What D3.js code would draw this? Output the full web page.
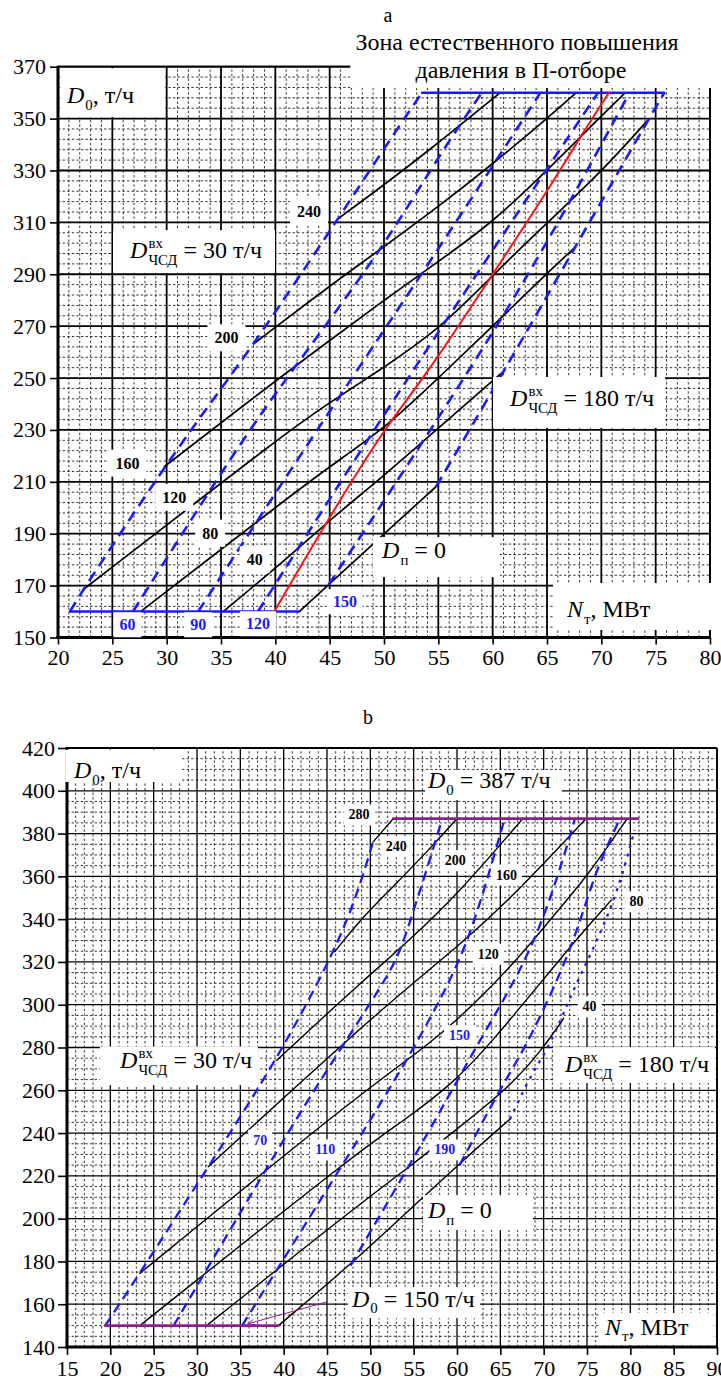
<!DOCTYPE html>
<html>
<head>
<meta charset="utf-8">
<script src="https://cdn.jsdelivr.net/npm/d3@7"></script>
<style>
    body { margin: 0; background: #fff; }
    svg text { font-family: "Liberation Serif", "Times New Roman", serif; fill: #000; }
</style>
</head>
<body>
<svg id="chart" width="721" height="1385" font-family="Liberation Serif"></svg>
<script>
// ---------- panel a data ----------
const aXTicks = d3.range(20, 81, 5);
const aYTicks = d3.range(150, 371, 20);

// black lines: constant D_п
const aDp0   = [[42.2,160],[44.9,170.3],[49.9,189.5],[54.8,208.2]];
const aDp40  = [[35.2,160],[41.3,181.2],[45,195.3],[49.9,212],[54.8,230],[60.1,249.3],[60.9,252.2]];
const aDp80  = [[27.6,160],[41.3,204.3],[45,215.9],[50.2,231],[54.8,249.3],[58.7,264.7],[65,290.4],[67.5,300.1]];
const aDp120 = [[22.3,168.4],[41.3,230],[45,240.5],[48.7,250.5],[55.2,269],[60,289.7],[65,309.7],[70,329.5],[74.2,349]];
const aDp160 = [[29.8,215.9],[38.9,245.4],[45,264.5],[50,280],[55.2,295.5],[60,310],[65,330],[70,351],[72.2,360]];
const aDp200 = [[38.1,263.5],[44.9,285.2],[49.8,300],[55.2,316.7],[60,332.5],[65,350],[67.7,360]];
const aDp240 = [[45.8,311.5],[49.8,323.8],[54.2,337.9],[60.7,360]];

// blue dashed lines: constant D_ЧСД
const aDc30  = [[21.1,160],[22.3,168.4],[29.8,215.9],[34.9,245.4],[38.1,263.5],[45.8,311.5],[49.9,337.9],[53.5,360]];
const aDc60  = [[26.9,160],[36.7,224.9],[41.8,254.4],[49.8,299.4],[55.2,336.7],[59,360]];
const aDc90  = [[32.9,160],[43,225],[53.5,290],[64.4,360]];
const aDc120 = [[38.4,160],[47.5,220],[58.5,290],[69.7,360]];
const aDc150 = [[44.9,170.3],[54,228],[63.5,290],[72.6,360]];
const aDc180 = [[54.8,208.2],[61.3,254.4],[74.2,348.8],[75.8,360]];

// red line: zone border
const aRed = [[39.9,160],[44.1,190.2],[49.9,230],[53.6,249.3],[60.06,290.4],[65,321.8],[67.7,340.5],[70.7,360]];

// blue limits D0 = 160 and D0 = 360
const aLimLow  = [[21.1,160],[42.2,160]];
const aLimHigh = [[53.5,360],[75.8,360]];

const aBlackLabels = [["240",43.1,314],["200",35.5,265.5],["160",26.4,217.2],["120",30.7,204],["80",34,190.2],["40",38.1,180]];
const aBlueLabels  = [["60",26.4,154.9],["90",32.9,154.9],["120",38.4,155.3],["150",46.4,163.8]];

// ---------- panel b data ----------
const bXTicks = d3.range(15, 91, 5);
const bYTicks = d3.range(140, 421, 20);

const bDp0   = [[39.4,150],[48.8,182.2],[59.8,224.2],[66.1,246.5]];
const bDp40  = [[31.1,150],[48.8,207],[55,225.7],[60.3,242.9],[66.2,262],[70,280],[72.3,293.6]];
const bDp80  = [[23.4,150],[48.8,232],[53.4,244.5],[59.6,263.2],[64.2,283.5],[70,312],[74.5,334],[77.8,348.9]];
const bDp120 = [[23.4,174.4],[48.8,258.6],[56.5,280.4],[62,300],[67.6,324.1],[71,341],[75,359.9],[79.6,386.8]];
const bDp160 = [[31.3,224.3],[48.8,289],[54.6,309],[60,327],[65.7,347.5],[74.9,387]];
const bDp200 = [[39.2,274],[48.8,310],[54.5,330],[60,351.3],[67.6,387]];
const bDp240 = [[45.9,324.8],[48.8,339.6],[52.65,355.2],[57.1,373.9],[60,387]];
const bDp280 = [[50.3,376],[52.65,387]];

const bDc30  = [[19.4,150],[23.4,174.4],[31.3,224.3],[39.2,274],[45.9,324.8],[48.6,353],[50.3,376]];
const bDc70  = [[27.3,150],[34,196],[41.1,244.5],[46.5,279],[51.5,310],[53.4,324.1],[55,344.3],[56.5,363],[58.3,387]];
const bDc110 = [[35.2,150],[48.8,238.3],[53.8,271],[60,316],[62.7,347.3],[65.5,387]];
const bDc150 = [[47.7,178],[56.9,241.4],[62.6,283.5],[68.4,322.5],[71.9,363],[73.6,387]];
const bDc190 = [[60.3,225],[65.3,263.2],[68,280.4],[73.4,327],[75.7,360],[78.8,387]];
const bDc180 = [[66.1,246.5],[68.8,269.5],[70.7,280.4],[73.4,306.9],[75.3,322.4],[78.4,350.5],[80.5,381.7]];

const bLimHigh = [[52.65,387],[80.9,387]];
const bLimLow  = [[19.4,150],[39.4,150]];
const bArrow   = [[45,161.1],[35.9,150.9]];

const bBlackLabels = [["280",48.7,388.7],["240",53,373.9],["200",59.8,367.3],["160",65.7,360.6],["120",63.6,323.6],["80",80.7,348.1],["40",75.3,299]];
const bBlueLabels  = [["70",37.3,236.7],["110",44.8,232.1],["150",60.3,285.5],["190",58.6,232.1]];

// ---------- drawing ----------
const svg   = d3.select("#chart");
const BLUE  = "#1a1aff";
const PURP  = "#8e1c8e";
const SERIF = "'Liberation Serif', 'Times New Roman', serif";

const ax = d3.scaleLinear().domain([20, 80]).range([58, 710]);
const ay = d3.scaleLinear().domain([150, 370]).range([637.5, 66.7]);
const bx = d3.scaleLinear().domain([15, 90]).range([67, 717]);
const by = d3.scaleLinear().domain([140, 420]).range([1347, 748]);

function drawGrid(g, x, y, xStep, yStep, xMajor, yMajor, majorWidth)
{
    var [x0, x1] = x.domain();
    var [y0, y1] = y.domain();

    var xs = d3.range(x0, x1 + 0.001, xStep);
    var ys = d3.range(y0, y1 + 0.001, yStep);

    g.selectAll(".vminor").data(xs.filter(v => !xMajor.includes(v)))
        .enter().append("line")
        .attr("x1", d => x(d)).attr("x2", d => x(d))
        .attr("y1", y(y0)).attr("y2", y(y1))
        .attr("stroke", "#000").attr("stroke-width", 0.8)
        .attr("stroke-dasharray", "2.4,2.2");

    g.selectAll(".hminor").data(ys.filter(v => !yMajor.includes(v)))
        .enter().append("line")
        .attr("y1", d => y(d)).attr("y2", d => y(d))
        .attr("x1", x(x0)).attr("x2", x(x1))
        .attr("stroke", "#000").attr("stroke-width", 0.8)
        .attr("stroke-dasharray", "2.4,2.2");

    g.selectAll(".vmajor").data(xMajor)
        .enter().append("line")
        .attr("x1", d => x(d)).attr("x2", d => x(d))
        .attr("y1", y(y0)).attr("y2", y(y1))
        .attr("stroke", "#000").attr("stroke-width", majorWidth);

    g.selectAll(".hmajor").data(yMajor)
        .enter().append("line")
        .attr("y1", d => y(d)).attr("y2", d => y(d))
        .attr("x1", x(x0)).attr("x2", x(x1))
        .attr("stroke", "#000").attr("stroke-width", majorWidth);
}

function drawSeries(g, x, y, series, color, width, dash)
{
    var line = d3.line().x(d => x(d[0])).y(d => y(d[1])).curve(d3.curveBasis);

    g.selectAll(null).data(series)
        .enter().append("path")
        .attr("d", line)
        .attr("fill", "none")
        .attr("stroke", color)
        .attr("stroke-width", width)
        .attr("stroke-dasharray", dash || null)
        .attr("stroke-linecap", dash ? "butt" : "round");
}

function box(g, x, y, x0, x1, y0, y1)
{
    g.append("rect")
        .attr("x", x(x0)).attr("y", y(y1))
        .attr("width", x(x1) - x(x0)).attr("height", y(y0) - y(y1))
        .attr("fill", "#fff");
}

// D with subscript / superscript and a tail
function richText(g, px, py, size, main, sub, sup, rest, gap)
{
    var t  = g.append("text").attr("x", px).attr("y", py).attr("font-family", SERIF)
        .style("font-size", size + "px").style("font-style", "italic").text(main);
    var cx = px + t.node().getComputedTextLength() + 1;
    var w  = 0;

    if (sub)
    {
        var s = g.append("text").attr("x", cx).attr("y", py + size * 0.28).attr("font-family", SERIF)
            .style("font-size", (size * 0.62) + "px").text(sub);
        w = s.node().getComputedTextLength();
    }
    if (sup)
    {
        var p = g.append("text").attr("x", cx).attr("y", py - size * 0.42).attr("font-family", SERIF)
            .style("font-size", (size * 0.62) + "px").text(sup);
        w = Math.max(w, p.node().getComputedTextLength());
    }
    if (rest)
    {
        g.append("text").attr("x", cx + w + (gap || 0)).attr("y", py).attr("font-family", SERIF)
            .style("font-size", size + "px").text(rest);
    }
}

function numLabels(g, x, y, labels, color, size, padX, padY)
{
    labels.forEach(l =>
    {
        var t = g.append("text")
            .attr("x", x(l[1])).attr("y", y(l[2]))
            .attr("text-anchor", "middle").attr("dominant-baseline", "central")
            .attr("font-family", SERIF)
            .style("font-size", size + "px").style("font-weight", "bold")
            .style("fill", color).text(l[0]);
        var bb = t.node().getBBox();
        g.insert("rect", () => t.node())
            .attr("x", bb.x - padX).attr("y", bb.y - padY)
            .attr("width", bb.width + 2 * padX).attr("height", bb.height + 2 * padY)
            .attr("fill", "#fff");
    });
}

function drawAxes(g, x, y, xTicks, yTicks, tickY, padY, tickX, padX)
{
    var gx = g.append("g").attr("transform", `translate(0,${y.range()[0]})`)
        .call(d3.axisBottom(x).tickValues(xTicks).tickSize(tickX).tickPadding(padX).tickSizeOuter(0));
    var gy = g.append("g").attr("transform", `translate(${x.range()[0]},0)`)
        .call(d3.axisLeft(y).tickValues(yTicks).tickSize(tickY).tickPadding(padY).tickSizeOuter(0));

    [gx, gy].forEach(a =>
    {
        a.attr("font-family", SERIF).attr("font-size", 22);
        a.selectAll(".domain").remove();
        a.selectAll("line").attr("stroke", "#000").attr("stroke-width", 1.6);
        a.selectAll("text").attr("font-family", SERIF).style("font-size", "22px").style("fill", "#000");
    });

    // frame
    var [x0, x1] = x.domain();
    var [y0, y1] = y.domain();
    g.append("line").attr("x1", x(x1)).attr("x2", x(x1)).attr("y1", y(y0)).attr("y2", y(y1))
        .attr("stroke", "#000").attr("stroke-width", 1.8);
    g.append("line").attr("x1", x(x0)).attr("x2", x(x1)).attr("y1", y(y1)).attr("y2", y(y1))
        .attr("stroke", "#000").attr("stroke-width", 1.8);
    g.append("line").attr("x1", x(x0)).attr("x2", x(x0)).attr("y1", y(y0) + 1.5).attr("y2", y(y1) - 1)
        .attr("stroke", "#000").attr("stroke-width", 3);
    g.append("line").attr("x1", x(x0) - 1.5).attr("x2", x(x1) + 1).attr("y1", y(y0)).attr("y2", y(y0))
        .attr("stroke", "#000").attr("stroke-width", 3);
}

// ================= panel a =================
const ga = svg.append("g");

drawGrid(ga, ax, ay, 1, 4, aXTicks, aYTicks, 1.8);

drawSeries(ga, ax, ay, [aDp0, aDp40, aDp80, aDp120, aDp160, aDp200, aDp240], "#000", 1.7);
drawSeries(ga, ax, ay, [aLimLow, aLimHigh], BLUE, 2.5);
drawSeries(ga, ax, ay, [aDc30, aDc60, aDc90, aDc120, aDc150, aDc180], BLUE, 2.6, "11,7");
drawSeries(ga, ax, ay, [aRed], "#ff1010", 2);

drawAxes(ga, ax, ay, aXTicks, aYTicks, 8, 4, 7, 5);

// title zone
box(ga, ax, ay, 46.9, 80.3, 361.8, 396);
ga.append("text").attr("x", ax(50.37)).attr("y", ay(387.2)).attr("text-anchor", "middle")
    .attr("font-family", SERIF).style("font-size", "20px").text("a");
ga.append("text").attr("x", ax(62.24)).attr("y", ay(376.4)).attr("text-anchor", "middle")
    .attr("font-family", SERIF).style("font-size", "24px").text("Зона естественного повышения");
ga.append("text").attr("x", ax(62.6)).attr("y", ay(365.6)).attr("text-anchor", "middle")
    .attr("font-family", SERIF).style("font-size", "24px").text("давления в П-отборе");

box(ga, ax, ay, 20.2, 29.85, 350.6, 369.4);
richText(ga, ax(20.83), ay(356), 24, "D", "0", null, ", т/ч", 0);

box(ga, ax, ay, 25.06, 39.97, 290.5, 307);
richText(ga, ax(26.63), ay(296.3), 24, "D", "ЧСД", "вх", "= 30 т/ч", 6);

box(ga, ax, ay, 60.03, 75.86, 230.8, 250.4);
richText(ga, ax(61.6), ay(239.2), 24, "D", "ЧСД", "вх", "= 180 т/ч", 6);

box(ga, ax, ay, 48.99, 60.67, 173.3, 188.7);
richText(ga, ax(49.82), ay(180.7), 24, "D", "п", null, "= 0", 6);

box(ga, ax, ay, 65.55, 80.2, 152.9, 171);
richText(ga, ax(66.84), ay(157.9), 24, "N", "т", null, ", МВт", 0);

numLabels(ga, ax, ay, aBlackLabels, "#000", 16, 7, 5);
numLabels(ga, ax, ay, aBlueLabels, BLUE, 16, 6, 4);

// ================= panel b =================
const gb = svg.append("g");

drawGrid(gb, bx, by, 1, 5, bXTicks, bYTicks, 1.3);

drawSeries(gb, bx, by, [bDp0, bDp40, bDp80, bDp120, bDp160, bDp200, bDp240, bDp280], "#000", 1.4);
drawSeries(gb, bx, by, [bDc30, bDc70, bDc110, bDc150, bDc190], BLUE, 2.3, "10,6");
drawSeries(gb, bx, by, [bDc180], BLUE, 2.3, "3,6");
drawSeries(gb, bx, by, [bLimHigh, bLimLow], PURP, 2.6);

svg.append("defs").append("marker")
    .attr("id", "arr").attr("viewBox", "0 0 10 10").attr("refX", 9).attr("refY", 5)
    .attr("markerWidth", 9).attr("markerHeight", 7).attr("orient", "auto")
    .append("path").attr("d", "M0,1 L10,5 L0,9").attr("fill", "none").attr("stroke", PURP).attr("stroke-width", 1.2);

gb.append("path")
    .attr("d", d3.line().x(d => bx(d[0])).y(d => by(d[1]))(bArrow))
    .attr("stroke", PURP).attr("stroke-width", 1).attr("fill", "none")
    .attr("marker-end", "url(#arr)");

drawAxes(gb, bx, by, bXTicks, bYTicks, 9, 3, 8, 5);

gb.append("text").attr("x", bx(49.73)).attr("y", by(431.2)).attr("text-anchor", "middle")
    .attr("font-family", SERIF).style("font-size", "20px").text("b");

box(gb, bx, by, 14.8, 28.27, 404.1, 419.2);
richText(gb, bx(15.81), by(406), 24, "D", "0", null, ", т/ч", 0);

box(gb, bx, by, 56.31, 72.1, 395.7, 409.7);
richText(gb, bx(56.65), by(401.3), 24, "D", "0", null, "= 387 т/ч", 6);

box(gb, bx, by, 18.8, 37.04, 262.4, 280.5);
richText(gb, bx(21.12), by(270.4), 24, "D", "ЧСД", "вх", "= 30 т/ч", 6);

box(gb, bx, by, 71.08, 89.77, 263.4, 280.2);
richText(gb, bx(72.46), by(268.5), 24, "D", "ЧСД", "вх", "= 180 т/ч", 6);

box(gb, bx, by, 56.08, 68.77, 194.7, 211);
richText(gb, bx(56.65), by(200.3), 24, "D", "п", null, "= 0", 6);

box(gb, bx, by, 47.42, 62.65, 153.5, 168);
richText(gb, bx(47.88), by(158.9), 24, "D", "0", null, "= 150 т/ч", 6);

box(gb, bx, by, 76.5, 89.54, 140.9, 155.9);
richText(gb, bx(77.08), by(145.8), 24, "N", "т", null, ", МВт", 0);

numLabels(gb, bx, by, bBlackLabels, "#000", 14, 5, 3);
numLabels(gb, bx, by, bBlueLabels, BLUE, 14, 5, 3);
</script>
</body>
</html>
